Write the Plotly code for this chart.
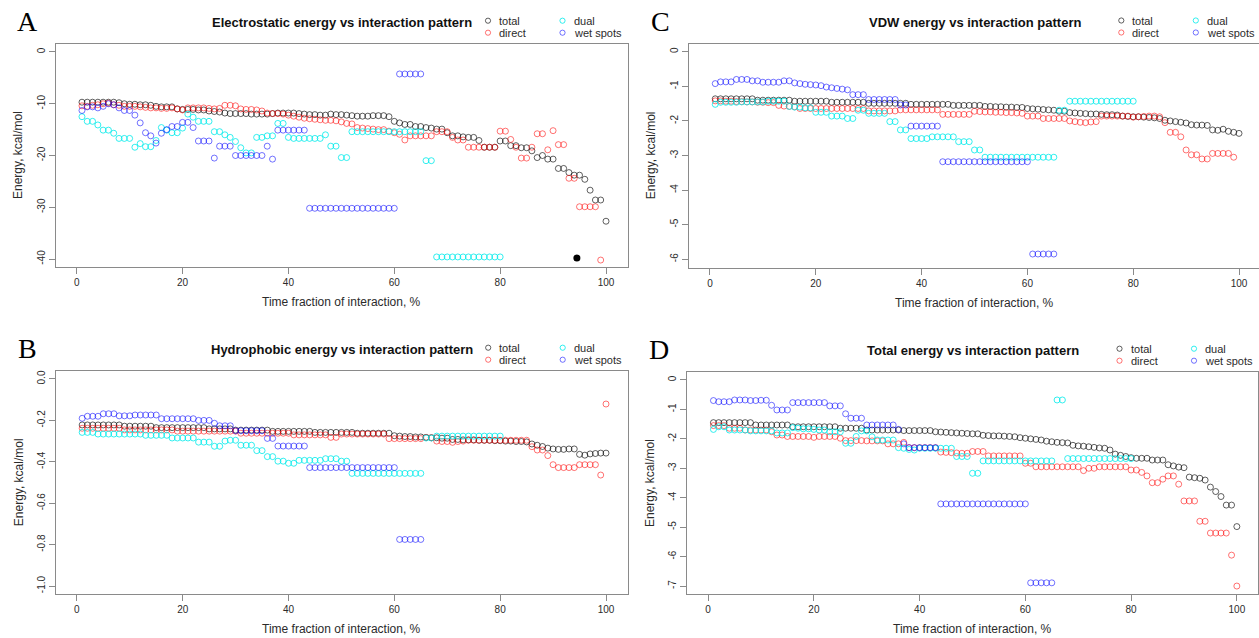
import plotly.graph_objects as go

# ---------------------------------------------------------------- data
X_PCT = list(range(1, 101))  # time fraction of interaction, %
SERIES = ["total", "direct", "dual", "wet spots"]

# A: electrostatic energy, kcal/mol
A_TOTAL = [
    -9.7, -9.7, -9.7, -9.7, -9.7, -9.7, -9.7, -9.8, -10.0, -10.1,
    -10.1, -10.2, -10.2, -10.3, -10.5, -10.6, -10.6, -10.6, -11.0, -11.1,
    -11.1, -11.1, -11.2, -11.2, -11.4, -11.5, -11.6, -11.8, -11.9, -11.9,
    -11.9, -11.9, -12.0, -12.0, -12.0, -12.0, -11.9, -11.8, -11.8, -11.8,
    -11.8, -11.9, -12.0, -12.1, -12.1, -12.2, -12.2, -12.0, -12.1, -12.1,
    -12.2, -12.3, -12.4, -12.4, -12.4, -12.3, -12.3, -12.3, -12.5, -13.4,
    -13.7, -14.0, -14.0, -14.4, -14.4, -14.6, -14.7, -14.9, -14.9, -15.6,
    -16.2, -16.2, -16.4, -16.5, -16.5, -17.1, -18.4, -18.4, -18.4, -17.2,
    -17.2, -18.1, -18.1, -18.5, -18.5, -19.1, -20.4, -20.0, -20.7, -20.7,
    -22.5, -22.5, -23.3, -23.8, -23.8, -24.6, -26.7, -28.6, -28.6, -32.7,
]
A_DIRECT = [
    -10.4, -10.5, -10.3, -10.2, -10.0, -9.9, -10.2, -10.3, -10.5, -10.5,
    -10.5, -10.6, -10.7, -10.8, -10.8, -10.9, -10.9, -10.8, -11.0, -11.2,
    -10.8, -10.8, -10.8, -10.8, -10.9, -11.0, -10.9, -10.3, -10.3, -10.4,
    -11.0, -11.1, -11.1, -11.2, -11.4, -11.8, -11.9, -11.9, -12.0, -12.2,
    -12.4, -12.6, -12.8, -12.9, -13.0, -13.1, -13.2, -13.2, -13.3, -13.5,
    -13.8, -13.9, -14.6, -14.7, -14.8, -14.9, -15.0, -15.0, -15.3, -15.6,
    -15.9, -17.0, -16.2, -16.2, -16.2, -16.2, -16.2, -15.4, -15.4, -15.4,
    -16.5, -17.0, -17.0, -18.4, -18.4, -18.4, -18.4, -18.4, -18.4, -15.3,
    -15.3, -16.9, -18.4, -20.5, -20.5, -18.4, -15.8, -15.8, -18.9, -15.2,
    -17.9, -17.9, -24.4, -24.4, -29.9, -29.9, -29.9, -29.9, -40.2, None,
]
A_DUAL = [
    -12.5, -13.4, -13.4, -14.1, -15.1, -15.1, -15.7, -16.7, -16.7, -16.7,
    -18.4, -17.7, -18.3, -18.3, -17.1, -14.6, -15.1, -15.6, -15.6, -14.7,
    -12.0, -12.6, -13.4, -13.4, -13.4, -15.4, -15.4, -16.0, -16.5, -17.3,
    -18.5, -19.5, -19.5, -16.5, -16.5, -16.2, -16.2, -13.8, -13.8, -16.5,
    -16.7, -16.7, -16.7, -16.7, -16.7, -16.7, -16.0, -18.2, -18.2, -20.4,
    -20.4, -15.4, -15.4, -15.4, -15.4, -15.4, -15.4, -15.4, -15.4, -15.4,
    -15.4, -15.4, -15.4, -15.4, -15.4, -21.0, -21.0, -39.6, -39.6, -39.6,
    -39.6, -39.6, -39.6, -39.6, -39.6, -39.6, -39.6, -39.6, -39.6, -39.6,
    None, None, None, None, None, None, None, None, None, None,
    None, None, None, None, None, None, None, None, None, None,
]
A_WET = [
    -11.3, -10.6, -10.6, -10.8, -10.5, -10.0, -10.2, -10.8, -11.3, -11.3,
    -12.2, -13.7, -15.6, -16.2, -17.6, -15.7, -15.0, -14.4, -14.4, -13.6,
    -13.6, -14.6, -17.2, -17.2, -17.2, -20.5, -18.2, -18.2, -18.2, -20.0,
    -20.0, -20.0, -20.0, -20.0, -20.0, -18.2, -20.7, -15.1, -15.1, -15.1,
    -15.1, -15.1, -15.1, -30.2, -30.2, -30.2, -30.2, -30.2, -30.2, -30.2,
    -30.2, -30.2, -30.2, -30.2, -30.2, -30.2, -30.2, -30.2, -30.2, -30.2,
    -4.25, -4.25, -4.25, -4.25, -4.25, None, None, None, None, None,
    None, None, None, None, None, None, None, None, None, None,
    None, None, None, None, None, None, None, None, None, None,
    None, None, None, None, None, None, None, None, None, None,
]
A_SOLID_X = [94.5]
A_SOLID_Y = [-39.8]

# B: hydrophobic energy, kcal/mol
B_TOTAL = [
    -0.222, -0.222, -0.222, -0.222, -0.222, -0.222, -0.222, -0.222, -0.228, -0.228,
    -0.228, -0.228, -0.228, -0.228, -0.235, -0.235, -0.235, -0.235, -0.235, -0.235,
    -0.235, -0.235, -0.235, -0.235, -0.241, -0.241, -0.241, -0.241, -0.241, -0.247,
    -0.247, -0.247, -0.247, -0.247, -0.247, -0.247, -0.253, -0.253, -0.253, -0.253,
    -0.253, -0.253, -0.253, -0.253, -0.258, -0.258, -0.258, -0.258, -0.258, -0.258,
    -0.258, -0.258, -0.262, -0.262, -0.262, -0.262, -0.262, -0.262, -0.262, -0.274,
    -0.276, -0.278, -0.278, -0.280, -0.280, -0.282, -0.284, -0.284, -0.286, -0.286,
    -0.292, -0.292, -0.294, -0.294, -0.294, -0.296, -0.296, -0.296, -0.298, -0.298,
    -0.300, -0.300, -0.302, -0.302, -0.304, -0.314, -0.320, -0.326, -0.334, -0.338,
    -0.340, -0.340, -0.338, -0.338, -0.364, -0.368, -0.362, -0.360, -0.358, -0.358,
]
B_DIRECT = [
    -0.238, -0.238, -0.238, -0.238, -0.238, -0.238, -0.238, -0.238, -0.246, -0.246,
    -0.246, -0.246, -0.246, -0.246, -0.246, -0.246, -0.246, -0.246, -0.252, -0.252,
    -0.252, -0.252, -0.252, -0.252, -0.252, -0.252, -0.252, -0.252, -0.252, -0.252,
    -0.262, -0.262, -0.262, -0.262, -0.262, -0.262, -0.262, -0.262, -0.262, -0.262,
    -0.270, -0.270, -0.270, -0.270, -0.270, -0.270, -0.270, -0.282, -0.282, -0.266,
    -0.266, -0.266, -0.266, -0.266, -0.266, -0.266, -0.266, -0.266, -0.288, -0.288,
    -0.288, -0.288, -0.288, -0.288, -0.288, -0.283, -0.283, -0.300, -0.302, -0.302,
    -0.306, -0.302, -0.300, -0.296, -0.296, -0.296, -0.296, -0.296, -0.296, -0.296,
    -0.296, -0.296, -0.296, -0.296, -0.296, -0.327, -0.343, -0.343, -0.370, -0.414,
    -0.428, -0.428, -0.428, -0.428, -0.414, -0.414, -0.414, -0.414, -0.464, -0.121,
]
B_DUAL = [
    -0.258, -0.258, -0.258, -0.266, -0.266, -0.266, -0.266, -0.266, -0.266, -0.266,
    -0.266, -0.266, -0.272, -0.272, -0.272, -0.272, -0.272, -0.285, -0.285, -0.285,
    -0.285, -0.285, -0.305, -0.305, -0.305, -0.325, -0.325, -0.300, -0.296, -0.296,
    -0.320, -0.320, -0.320, -0.346, -0.346, -0.375, -0.375, -0.397, -0.397, -0.407,
    -0.407, -0.393, -0.393, -0.393, -0.393, -0.393, -0.385, -0.385, -0.385, -0.397,
    -0.397, -0.456, -0.456, -0.456, -0.456, -0.456, -0.456, -0.456, -0.456, -0.456,
    -0.456, -0.456, -0.456, -0.456, -0.456, -0.285, -0.285, -0.276, -0.276, -0.276,
    -0.276, -0.276, -0.276, -0.276, -0.276, -0.276, -0.276, -0.276, -0.276, -0.276,
    None, None, None, None, None, None, None, None, None, None,
    None, None, None, None, None, None, None, None, None, None,
]
B_WET = [
    -0.190, -0.180, -0.180, -0.180, -0.168, -0.168, -0.168, -0.178, -0.178, -0.178,
    -0.174, -0.174, -0.174, -0.174, -0.174, -0.192, -0.192, -0.192, -0.192, -0.192,
    -0.192, -0.192, -0.200, -0.200, -0.200, -0.214, -0.226, -0.226, -0.226, -0.250,
    -0.250, -0.250, -0.250, -0.250, -0.250, -0.287, -0.287, -0.324, -0.324, -0.324,
    -0.324, -0.324, -0.324, -0.428, -0.428, -0.428, -0.428, -0.428, -0.428, -0.428,
    -0.428, -0.428, -0.428, -0.428, -0.428, -0.428, -0.428, -0.428, -0.428, -0.428,
    -0.775, -0.775, -0.775, -0.775, -0.775, None, None, None, None, None,
    None, None, None, None, None, None, None, None, None, None,
    None, None, None, None, None, None, None, None, None, None,
    None, None, None, None, None, None, None, None, None, None,
]

# C: van der Waals energy, kcal/mol
C_TOTAL = [
    -1.36, -1.36, -1.36, -1.36, -1.36, -1.36, -1.36, -1.36, -1.40, -1.40,
    -1.40, -1.40, -1.40, -1.40, -1.40, -1.43, -1.43, -1.43, -1.43, -1.43,
    -1.43, -1.43, -1.46, -1.46, -1.46, -1.46, -1.46, -1.46, -1.46, -1.49,
    -1.49, -1.49, -1.49, -1.49, -1.49, -1.49, -1.49, -1.52, -1.52, -1.52,
    -1.52, -1.52, -1.52, -1.52, -1.52, -1.55, -1.55, -1.55, -1.55, -1.55,
    -1.55, -1.58, -1.58, -1.59, -1.59, -1.60, -1.60, -1.61, -1.61, -1.64,
    -1.65, -1.66, -1.67, -1.68, -1.69, -1.72, -1.72, -1.76, -1.77, -1.78,
    -1.79, -1.80, -1.80, -1.81, -1.82, -1.82, -1.83, -1.86, -1.87, -1.88,
    -1.88, -1.89, -1.90, -1.91, -1.93, -1.98, -2.00, -2.02, -2.04, -2.06,
    -2.11, -2.12, -2.12, -2.13, -2.26, -2.27, -2.24, -2.30, -2.33, -2.36,
]
C_DIRECT = [
    -1.42, -1.42, -1.43, -1.43, -1.44, -1.44, -1.45, -1.45, -1.46, -1.46,
    -1.47, -1.47, -1.55, -1.57, -1.58, -1.59, -1.64, -1.64, -1.64, -1.64,
    -1.64, -1.64, -1.64, -1.64, -1.64, -1.64, -1.64, -1.64, -1.64, -1.71,
    -1.71, -1.71, -1.71, -1.71, -1.71, -1.68, -1.68, -1.68, -1.68, -1.68,
    -1.68, -1.68, -1.68, -1.81, -1.81, -1.81, -1.81, -1.81, -1.81, -1.72,
    -1.73, -1.74, -1.74, -1.75, -1.75, -1.76, -1.76, -1.77, -1.78, -1.86,
    -1.86, -1.86, -1.93, -1.93, -1.93, -1.93, -1.93, -2.00, -2.02, -2.04,
    -2.05, -2.03, -2.02, -1.86, -1.86, -1.86, -1.86, -1.86, -1.86, -1.89,
    -1.88, -1.87, -1.86, -1.86, -1.88, -2.05, -2.33, -2.33, -2.46, -2.84,
    -2.98, -2.98, -3.10, -3.10, -2.94, -2.94, -2.94, -2.94, -3.05, None,
]
C_DUAL = [
    -1.52, -1.46, -1.46, -1.46, -1.46, -1.45, -1.45, -1.45, -1.45, -1.45,
    -1.43, -1.43, -1.43, -1.43, -1.58, -1.60, -1.60, -1.62, -1.62, -1.75,
    -1.75, -1.75, -1.86, -1.86, -1.86, -1.93, -1.93, -1.69, -1.69, -1.78,
    -1.78, -1.78, -1.78, -2.02, -2.02, -2.26, -2.26, -2.51, -2.51, -2.51,
    -2.51, -2.46, -2.46, -2.46, -2.46, -2.46, -2.60, -2.60, -2.60, -2.84,
    -2.84, -3.05, -3.05, -3.05, -3.05, -3.05, -3.05, -3.05, -3.05, -3.05,
    -3.05, -3.05, -3.05, -3.05, -3.05, -1.69, -1.69, -1.43, -1.43, -1.43,
    -1.43, -1.43, -1.43, -1.43, -1.43, -1.43, -1.43, -1.43, -1.43, -1.43,
    None, None, None, None, None, None, None, None, None, None,
    None, None, None, None, None, None, None, None, None, None,
]
C_WET = [
    -0.92, -0.87, -0.87, -0.87, -0.80, -0.80, -0.80, -0.84, -0.84, -0.88,
    -0.88, -0.88, -0.88, -0.84, -0.84, -0.90, -0.92, -0.94, -0.95, -0.96,
    -0.98, -1.02, -1.04, -1.06, -1.08, -1.10, -1.24, -1.24, -1.24, -1.38,
    -1.38, -1.38, -1.38, -1.38, -1.38, -1.54, -1.54, -2.15, -2.15, -2.15,
    -2.15, -2.15, -2.15, -3.18, -3.18, -3.18, -3.18, -3.18, -3.18, -3.18,
    -3.18, -3.18, -3.18, -3.18, -3.18, -3.18, -3.18, -3.18, -3.18, -3.18,
    -5.85, -5.85, -5.85, -5.85, -5.85, None, None, None, None, None,
    None, None, None, None, None, None, None, None, None, None,
    None, None, None, None, None, None, None, None, None, None,
    None, None, None, None, None, None, None, None, None, None,
]

# D: total energy, kcal/mol
D_TOTAL = [
    -1.45, -1.45, -1.45, -1.45, -1.45, -1.45, -1.45, -1.45, -1.53, -1.53,
    -1.53, -1.53, -1.53, -1.53, -1.53, -1.59, -1.59, -1.59, -1.59, -1.59,
    -1.59, -1.59, -1.59, -1.59, -1.64, -1.64, -1.64, -1.64, -1.64, -1.70,
    -1.70, -1.70, -1.70, -1.70, -1.70, -1.70, -1.72, -1.72, -1.72, -1.72,
    -1.72, -1.72, -1.76, -1.77, -1.78, -1.79, -1.80, -1.81, -1.82, -1.83,
    -1.83, -1.88, -1.89, -1.90, -1.90, -1.91, -1.92, -1.93, -1.96, -1.98,
    -2.00, -2.02, -2.04, -2.08, -2.10, -2.12, -2.13, -2.14, -2.22, -2.24,
    -2.25, -2.27, -2.29, -2.31, -2.32, -2.38, -2.52, -2.56, -2.60, -2.64,
    -2.66, -2.66, -2.66, -2.72, -2.72, -2.72, -2.88, -2.92, -2.96, -2.98,
    -3.30, -3.32, -3.34, -3.40, -3.64, -3.79, -3.96, -4.25, -4.25, -4.98,
]
D_DIRECT = [
    -1.55, -1.55, -1.55, -1.64, -1.64, -1.64, -1.70, -1.70, -1.70, -1.70,
    -1.70, -1.76, -1.87, -1.87, -1.92, -1.92, -1.92, -1.92, -1.92, -1.95,
    -1.92, -1.92, -1.92, -1.92, -1.98, -2.06, -2.06, -2.06, -2.06, -2.07,
    -2.07, -2.07, -2.07, -2.17, -2.17, -2.17, -2.12, -2.30, -2.30, -2.30,
    -2.30, -2.30, -2.30, -2.45, -2.46, -2.47, -2.48, -2.49, -2.49, -2.43,
    -2.43, -2.43, -2.58, -2.58, -2.58, -2.58, -2.58, -2.58, -2.58, -2.83,
    -2.83, -2.95, -2.95, -2.95, -2.95, -2.95, -2.95, -2.95, -2.95, -2.95,
    -3.08, -3.00, -3.00, -2.95, -2.95, -2.95, -2.95, -2.95, -2.95, -3.06,
    -3.06, -3.14, -3.26, -3.49, -3.49, -3.37, -3.26, -3.26, -3.54, -4.11,
    -4.11, -4.11, -4.80, -4.80, -5.20, -5.20, -5.20, -5.20, -5.95, -7.00,
]
D_DUAL = [
    -1.68, -1.59, -1.59, -1.70, -1.70, -1.70, -1.70, -1.73, -1.73, -1.73,
    -1.73, -1.73, -1.80, -1.80, -1.80, -1.62, -1.64, -1.66, -1.66, -1.68,
    -1.70, -1.70, -1.76, -1.76, -1.76, -2.15, -2.15, -1.92, -1.73, -1.73,
    -1.93, -2.04, -2.04, -2.04, -2.04, -2.30, -2.32, -2.36, -2.38, -2.32,
    -2.32, -2.32, -2.32, -2.32, -2.32, -2.32, -2.60, -2.60, -2.60, -3.17,
    -3.17, -2.75, -2.75, -2.75, -2.75, -2.75, -2.75, -2.75, -2.75, -2.75,
    -2.75, -2.75, -2.75, -2.75, -2.75, -0.68, -0.68, -2.67, -2.67, -2.67,
    -2.67, -2.67, -2.67, -2.67, -2.67, -2.67, -2.67, -2.67, -2.67, -2.67,
    None, None, None, None, None, None, None, None, None, None,
    None, None, None, None, None, None, None, None, None, None,
]
D_WET = [
    -0.70, -0.74, -0.74, -0.74, -0.68, -0.68, -0.68, -0.70, -0.70, -0.69,
    -0.69, -0.86, -1.02, -1.02, -1.02, -0.77, -0.77, -0.77, -0.77, -0.77,
    -0.77, -0.77, -0.88, -0.88, -0.88, -1.15, -1.30, -1.30, -1.30, -1.53,
    -1.53, -1.53, -1.53, -1.53, -1.53, -1.68, -2.17, -2.30, -2.30, -2.30,
    -2.30, -2.30, -2.30, -4.21, -4.21, -4.21, -4.21, -4.21, -4.21, -4.21,
    -4.21, -4.21, -4.21, -4.21, -4.21, -4.21, -4.21, -4.21, -4.21, -4.21,
    -6.89, -6.89, -6.89, -6.89, -6.89, None, None, None, None, None,
    None, None, None, None, None, None, None, None, None, None,
    None, None, None, None, None, None, None, None, None, None,
    None, None, None, None, None, None, None, None, None, None,
]

X_TICKS = [0, 20, 40, 60, 80, 100]
A_YTICKS = [0, -10, -20, -30, -40]
A_YTEXT = ["0", "-10", "-20", "-30", "-40"]
B_YTICKS = [0.0, -0.2, -0.4, -0.6, -0.8, -1.0]
B_YTEXT = ["0.0", "-0.2", "-0.4", "-0.6", "-0.8", "-1.0"]
C_YTICKS = [0, -1, -2, -3, -4, -5, -6]
C_YTEXT = ["0", "-1", "-2", "-3", "-4", "-5", "-6"]
D_YTICKS = [0, -1, -2, -3, -4, -5, -6, -7]
D_YTEXT = ["0", "-1", "-2", "-3", "-4", "-5", "-6", "-7"]

TITLES = {
    "A": "Electrostatic energy vs interaction pattern",
    "B": "Hydrophobic energy vs interaction pattern",
    "C": "VDW energy vs interaction pattern",
    "D": "Total energy vs interaction pattern",
}
X_TITLE = "Time fraction of interaction, %"
Y_TITLE = "Energy, kcal/mol"

# ---------------------------------------------------------------- style
W, H = 1259, 638
COLORS = {
    "total": "rgba(0,0,0,0.62)",
    "direct": "rgba(255,0,0,0.55)",
    "dual": "rgba(0,235,235,0.8)",
    "wet spots": "rgba(0,0,255,0.55)",
}
FRAME = "#8a8a8a"
TXT = "#2b2b2b"
SANS = "Liberation Sans, Arial, sans-serif"

# plot boxes in pixels: left, right, top, bottom; C is cut at the page edge
PANELS = [
    dict(key="A", ax="", box=(55.5, 627.7, 43.7, 267.3), xr=[-4, 104.1],
         yr=[-41.6, 1.6], yt=A_YTICKS, ytt=A_YTEXT, mid=341.6,
         data=[A_TOTAL, A_DIRECT, A_DUAL, A_WET]),
    dict(key="B", ax="2", box=(55.7, 627.7, 370.7, 594.3), xr=[-4, 104.1],
         yr=[-1.04, 0.04], yt=B_YTICKS, ytt=B_YTEXT, mid=341.7,
         data=[B_TOTAL, B_DIRECT, B_DUAL, B_WET]),
    dict(key="C", ax="3", box=(688.8, 1259.0, 43.5, 267.5), xr=[-4, 103.78],
         yr=[-6.24, 0.24], yt=C_YTICKS, ytt=C_YTEXT, mid=974.5,
         data=[C_TOTAL, C_DIRECT, C_DUAL, C_WET]),
    dict(key="D", ax="4", box=(687.0, 1258.0, 371.7, 594.3), xr=[-4, 104],
         yr=[-7.28, 0.28], yt=D_YTICKS, ytt=D_YTEXT, mid=972.5,
         data=[D_TOTAL, D_DIRECT, D_DUAL, D_WET]),
]


def px(x):
    return x / W


def py(y):
    return 1 - y / H


fig = go.Figure()
annotations = []
shapes = []
layout = {}

for p in PANELS:
    ax = p["ax"]
    left, right, top, bottom = p["box"]
    for name, vals in zip(SERIES, p["data"]):
        fig.add_trace(go.Scatter(
            x=X_PCT, y=vals, mode="markers", name=name, showlegend=False,
            xaxis="x" + ax, yaxis="y" + ax,
            marker=dict(symbol="circle-open", size=6, color=COLORS[name],
                        line=dict(width=1, color=COLORS[name])),
            hoverinfo="skip",
        ))
    if p["key"] == "A":
        fig.add_trace(go.Scatter(
            x=A_SOLID_X, y=A_SOLID_Y, mode="markers", showlegend=False,
            xaxis="x", yaxis="y", hoverinfo="skip",
            marker=dict(symbol="circle", size=7, color="black"),
        ))

    layout["xaxis" + ax] = dict(
        domain=[px(left), px(right)], range=p["xr"], anchor="y" + ax,
        tickvals=X_TICKS, ticktext=[str(v) for v in X_TICKS],
        ticks="outside", ticklen=6, tickwidth=1, tickcolor=FRAME,
        showline=True, mirror=True, linecolor=FRAME, linewidth=1,
        showgrid=False, zeroline=False,
        tickfont=dict(family=SANS, size=10, color=TXT),
    )
    layout["yaxis" + ax] = dict(
        domain=[py(bottom), py(top)], range=p["yr"], anchor="x" + ax,
        tickvals=p["yt"], ticktext=p["ytt"], tickangle=-90,
        ticks="outside", ticklen=6, tickwidth=1, tickcolor=FRAME,
        showline=True, mirror=True, linecolor=FRAME, linewidth=1,
        showgrid=False, zeroline=False,
        tickfont=dict(family=SANS, size=10, color=TXT),
    )

    cx = p["mid"]
    cy = (top + bottom) / 2

    # panel letter
    annotations.append(dict(
        text=p["key"], x=px(left - 28), y=py(top - 22), xref="paper",
        yref="paper", xanchor="center", yanchor="middle", showarrow=False,
        font=dict(family="Liberation Serif, DejaVu Serif, serif", size=28,
                  color="black"),
    ))
    # main title
    annotations.append(dict(
        text="<b>" + TITLES[p["key"]] + "</b>", x=px(cx), y=py(top - 21),
        xref="paper", yref="paper", xanchor="center", yanchor="middle",
        showarrow=False, font=dict(family=SANS, size=13, color="#111"),
    ))
    # axis titles
    annotations.append(dict(
        text=X_TITLE, x=px(cx), y=py(bottom + 35), xref="paper",
        yref="paper", xanchor="center", yanchor="middle", showarrow=False,
        font=dict(family=SANS, size=12, color=TXT),
    ))
    annotations.append(dict(
        text=Y_TITLE, x=px(left - 37), y=py(cy), xref="paper", yref="paper",
        xanchor="center", yanchor="middle", showarrow=False, textangle=-90,
        font=dict(family=SANS, size=12, color=TXT),
    ))

    # two-column legend above the top right of the box
    col1 = left + 432.5
    col2 = left + 507.0
    row1 = top - 23
    row2 = top - 11
    entries = [("total", col1, row1), ("direct", col1, row2),
               ("dual", col2, row1), ("wet spots", col2, row2)]
    for name, lx, ly in entries:
        r = 2.6
        shapes.append(dict(
            type="circle", xref="paper", yref="paper",
            x0=px(lx - r), x1=px(lx + r), y0=py(ly + r), y1=py(ly - r),
            line=dict(color=COLORS[name], width=1),
        ))
        annotations.append(dict(
            text=name, x=px(lx + 9), y=py(ly), xref="paper", yref="paper",
            xanchor="left", yanchor="middle", showarrow=False,
            font=dict(family=SANS, size=11, color=TXT),
        ))

fig.update_layout(
    width=W, height=H, margin=dict(l=0, r=0, t=0, b=0),
    paper_bgcolor="white", plot_bgcolor="white",
    annotations=annotations, shapes=shapes, **layout,
)

fig.write_html("out.html")
